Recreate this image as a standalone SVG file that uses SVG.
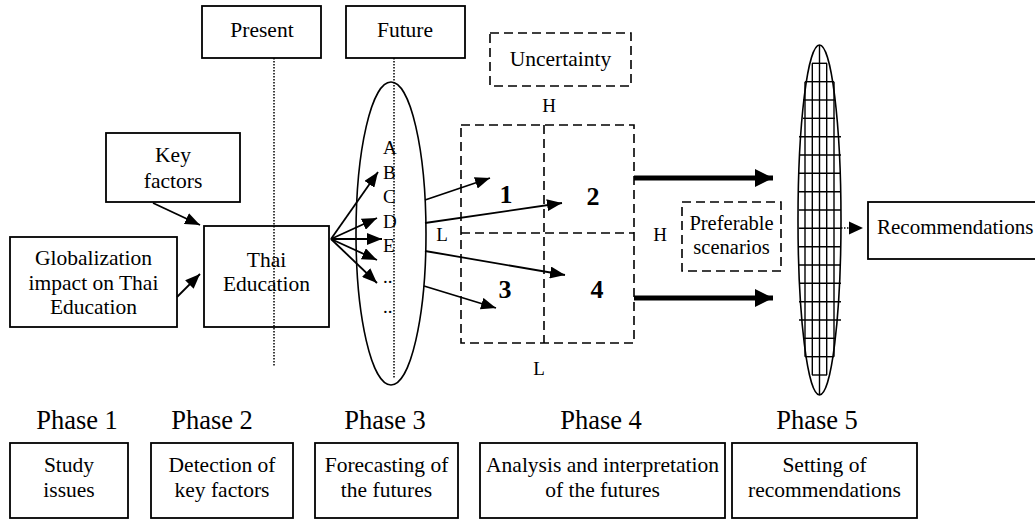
<svg xmlns="http://www.w3.org/2000/svg" width="1035" height="520" viewBox="0 0 1035 520">
<style>
text{font-family:'Liberation Serif','DejaVu Serif',serif;fill:#000}
.t{font-size:21.5px;text-anchor:middle}
.tb{font-size:21.5px;text-anchor:middle}
.ph{font-size:26.5px;text-anchor:middle}
.lt{font-size:19px}
.num{font-size:26px;font-weight:bold;text-anchor:middle}
.box{fill:#fff;stroke:#000;stroke-width:1.8}
.dash{fill:none;stroke:#000;stroke-width:1.6;stroke-dasharray:9 5}
.dot{fill:none;stroke:#000;stroke-width:1.5;stroke-dasharray:1.5 1.5}
.arr{fill:none;stroke:#000;stroke-width:1.8;marker-end:url(#ah)}
.thick{fill:none;stroke:#000;stroke-width:5;marker-end:url(#ahb)}
.grid{stroke:#000;stroke-width:1.4}
</style>
<defs>
<marker id="ah" markerUnits="userSpaceOnUse" markerWidth="16" markerHeight="12" refX="15" refY="6" orient="auto">
<path d="M0,0 L15,6 L0,12 z" fill="#000"/>
</marker>
<marker id="ahb" markerUnits="userSpaceOnUse" markerWidth="18" markerHeight="18" refX="18" refY="9" orient="auto">
<path d="M0,0 L18,9 L0,18 z" fill="#000"/>
</marker>
</defs>

<g id="timelines">
<line class="dot" x1="274" y1="58" x2="274" y2="367"/>
<line class="dot" x1="394" y1="58" x2="394" y2="378"/>
</g>

<g id="present">
<rect class="box" x="202" y="6" width="119" height="52"/>
<text class="t" x="262" y="37">Present</text>
</g>
<g id="future">
<rect class="box" x="346" y="6" width="119" height="52"/>
<text class="t" x="405" y="37">Future</text>
</g>

<g id="key-factors">
<rect class="box" x="106" y="133" width="134" height="69"/>
<text class="t" x="173" y="162">Key</text>
<text class="t" x="173" y="188">factors</text>
</g>

<g id="globalization">
<rect class="box" x="10" y="237" width="167" height="90"/>
<text class="t" x="93.5" y="265">Globalization</text>
<text class="t" x="93.5" y="290">impact on Thai</text>
<text class="t" x="93.5" y="314">Education</text>
</g>

<g id="thai-education">
<rect class="box" x="204" y="226" width="125" height="101" fill-opacity="0"/>
<text class="t" x="266.5" y="267">Thai</text>
<text class="t" x="266.5" y="291">Education</text>
</g>

<g id="futures-ellipse">
<ellipse cx="391" cy="233.5" rx="35" ry="151.5" fill="none" stroke="#000" stroke-width="1.6"/>
<text class="lt" x="383" y="154">A</text>
<text class="lt" x="383" y="179">B</text>
<text class="lt" x="383" y="203">C</text>
<text class="lt" x="383" y="228">D</text>
<text class="lt" x="383" y="252">E</text>
<text class="lt" x="383" y="283">..</text>
<text class="lt" x="383" y="313">..</text>
</g>

<g id="uncertainty">
<rect class="dash" x="490" y="33" width="141" height="53"/>
<text class="t" x="560.5" y="66">Uncertainty</text>
</g>

<g id="scenario-matrix">
<rect class="dash" x="461" y="125" width="173" height="218"/>
<line class="dash" x1="544" y1="125" x2="544" y2="343"/>
<line class="dash" x1="461" y1="233" x2="634" y2="233"/>
<text class="num" x="506" y="203">1</text>
<text class="num" x="593" y="205">2</text>
<text class="num" x="505" y="298">3</text>
<text class="num" x="597" y="298">4</text>
<text class="lt" x="549" y="112" text-anchor="middle">H</text>
<text class="lt" x="539" y="375" text-anchor="middle">L</text>
<text class="lt" x="442" y="241" text-anchor="middle">L</text>
<text class="lt" x="660" y="241" text-anchor="middle">H</text>
</g>

<g id="preferable-scenarios">
<rect class="dash" x="682" y="202" width="99" height="69"/>
<text class="t" x="731.5" y="230" style="font-size:20.5px">Preferable</text>
<text class="t" x="731.5" y="254" style="font-size:20.5px">scenarios</text>
</g>

<g id="recommendation-filter">
<g class="grid">
<line x1="819.5" y1="45" x2="819.5" y2="395"/>
<line x1="812.3" y1="63.3" x2="812.3" y2="375"/>
<line x1="826.7" y1="63.3" x2="826.7" y2="375"/>
<line x1="805" y1="81.7" x2="805" y2="356.7"/>
<line x1="834" y1="81.7" x2="834" y2="356.7"/>
<line x1="812" y1="63.3" x2="827" y2="63.3"/>
<line x1="805" y1="81.7" x2="834" y2="81.7"/>
<line x1="803" y1="100" x2="835" y2="100"/>
<line x1="803" y1="118.3" x2="835" y2="118.3"/>
<line x1="799" y1="136.7" x2="841" y2="136.7"/>
<line x1="799" y1="155" x2="841" y2="155"/>
<line x1="799" y1="173.3" x2="841" y2="173.3"/>
<line x1="799" y1="191.7" x2="841" y2="191.7"/>
<line x1="799" y1="210" x2="841" y2="210"/>
<line x1="799" y1="228.3" x2="841" y2="228.3"/>
<line x1="799" y1="246.7" x2="841" y2="246.7"/>
<line x1="799" y1="265" x2="841" y2="265"/>
<line x1="799" y1="283.3" x2="841" y2="283.3"/>
<line x1="799" y1="301.7" x2="841" y2="301.7"/>
<line x1="799" y1="320" x2="841" y2="320"/>
<line x1="803" y1="338.3" x2="835" y2="338.3"/>
<line x1="805" y1="356.7" x2="834" y2="356.7"/>
<line x1="812" y1="375" x2="827" y2="375"/>
</g>
<ellipse cx="819.5" cy="220" rx="21.5" ry="175" fill="none" stroke="#000" stroke-width="1.6"/>
</g>

<g id="recommendations">
<rect class="box" x="868" y="202" width="175" height="57"/>
<text x="877" y="234" style="font-size:21px">Recommendations</text>
</g>

<g id="phases">
<text class="ph" x="77" y="429">Phase 1</text>
<text class="ph" x="212" y="429">Phase 2</text>
<text class="ph" x="385" y="429">Phase 3</text>
<text class="ph" x="601" y="429">Phase 4</text>
<text class="ph" x="817" y="429">Phase 5</text>
</g>
<g id="phase1-box">
<rect class="box" x="10" y="443" width="118" height="75"/>
<text class="tb" x="69" y="472">Study</text>
<text class="tb" x="69" y="497">issues</text>
</g>
<g id="phase2-box">
<rect class="box" x="151" y="443" width="142" height="75"/>
<text class="tb" x="222" y="472">Detection of</text>
<text class="tb" x="222" y="497">key factors</text>
</g>
<g id="phase3-box">
<rect class="box" x="315" y="443" width="143" height="75"/>
<text class="tb" x="386.5" y="472">Forecasting of</text>
<text class="tb" x="386.5" y="497">the futures</text>
</g>
<g id="phase4-box">
<rect class="box" x="480" y="443" width="245" height="75"/>
<text class="tb" x="602.5" y="472">Analysis and interpretation</text>
<text class="tb" x="602.5" y="497">of the futures</text>
</g>
<g id="phase5-box">
<rect class="box" x="732" y="443" width="185" height="75"/>
<text class="tb" x="824.5" y="472">Setting of</text>
<text class="tb" x="824.5" y="497">recommendations</text>
</g>

<g id="connectors">
<line class="arr" x1="153" y1="203" x2="200" y2="225"/>
<line class="arr" x1="177" y1="297" x2="200" y2="274"/>
<line class="arr" x1="331" y1="239" x2="378" y2="172"/>
<line class="arr" x1="331" y1="239" x2="377" y2="218"/>
<line class="arr" x1="331" y1="239" x2="382" y2="239"/>
<line class="arr" x1="331" y1="239" x2="377" y2="260"/>
<line class="arr" x1="331" y1="239" x2="377" y2="283"/>
<line class="arr" x1="425" y1="200" x2="490" y2="178"/>
<line class="arr" x1="425" y1="223" x2="562" y2="203"/>
<line class="arr" x1="425" y1="251" x2="565" y2="275"/>
<line class="arr" x1="424" y1="286" x2="496" y2="308"/>
<line class="thick" x1="634" y1="178" x2="773" y2="178"/>
<line class="thick" x1="634" y1="298" x2="773" y2="298"/>
<line class="dot" x1="841" y1="228" x2="850" y2="228"/>
<path d="M849,221.5 L863,228 L849,234.5 z" fill="#000"/>
</g>
</svg>
